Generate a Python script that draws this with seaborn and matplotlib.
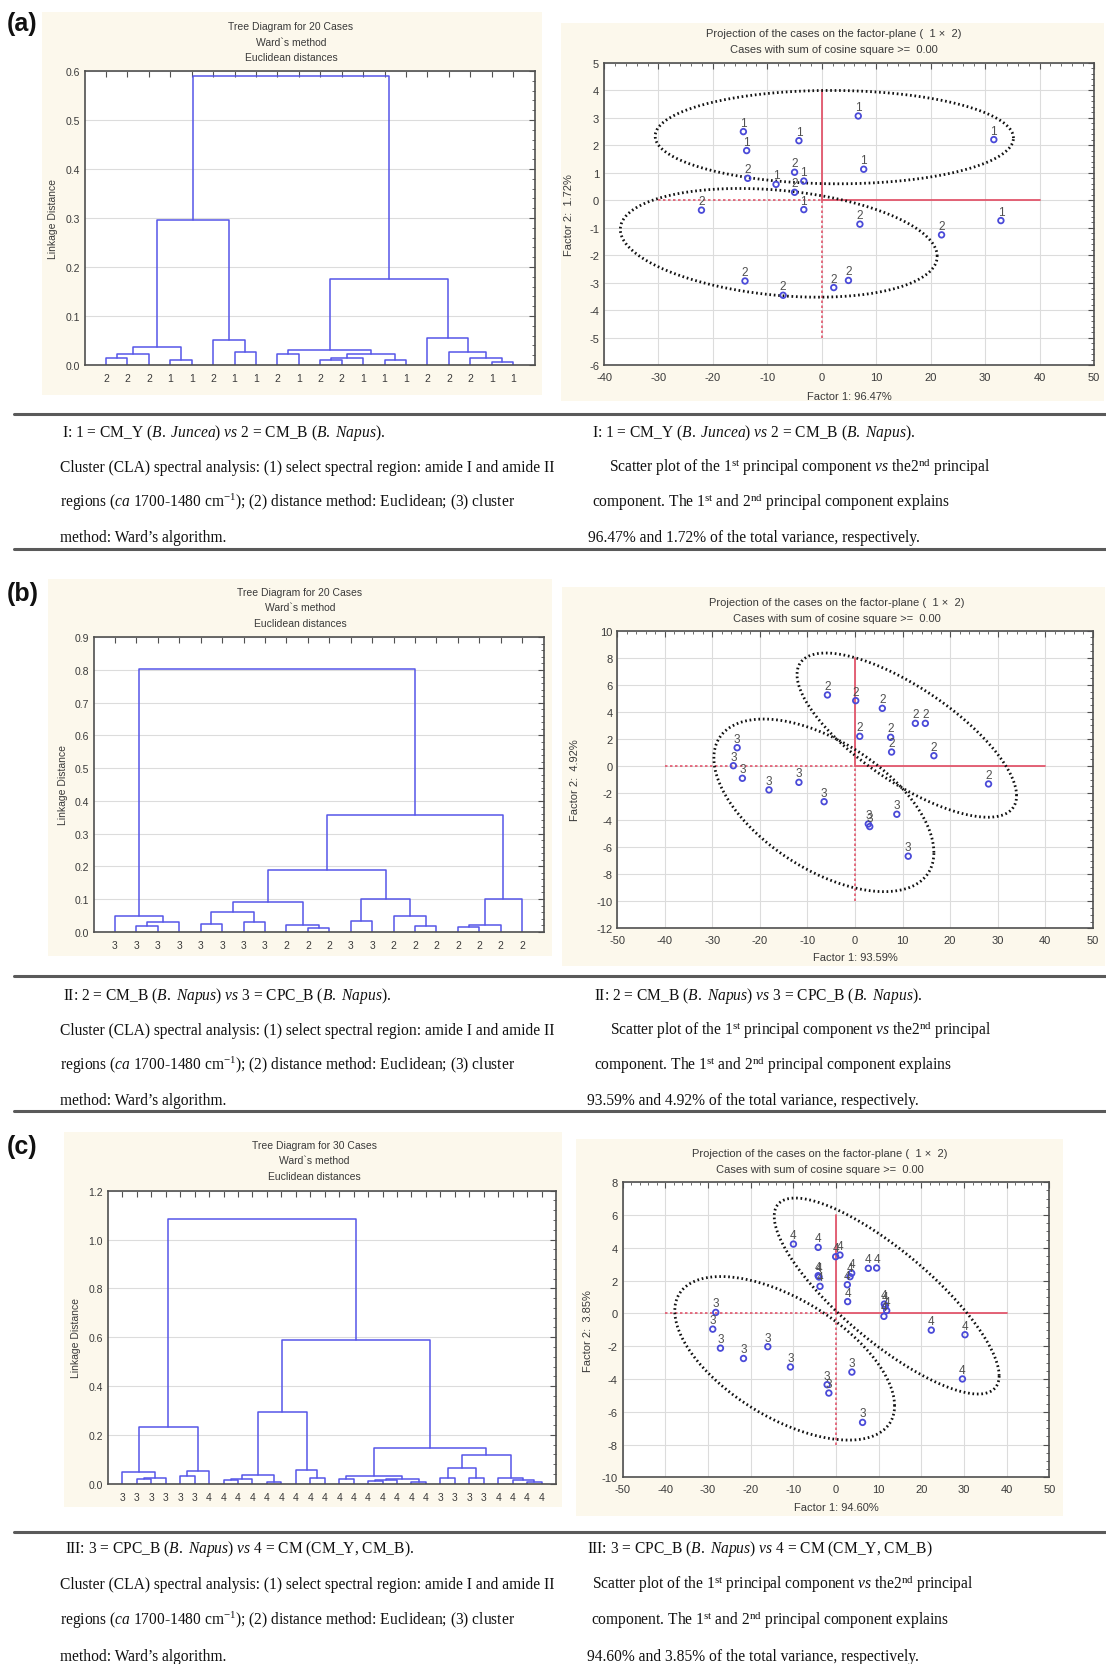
import numpy as np
import matplotlib
matplotlib.use("Agg")
import matplotlib.pyplot as plt
import seaborn as sns
from matplotlib.lines import Line2D
from matplotlib.patches import Rectangle
from matplotlib.ticker import MultipleLocator, AutoMinorLocator, FormatStrFormatter

# ---------------- data ----------------
# dendrograms: leaves in display order, merges = (child, child, linkage distance)
# leaves are 0..n-1, each merge creates node n, n+1, ...
dend_a_labels = [2, 2, 2, 1, 1, 2, 1, 1, 2, 1, 2, 2, 1, 1, 1, 2, 2, 2, 1, 1]
dend_a_merges = [
    (0, 1, 0.014), (20, 2, 0.022), (3, 4, 0.011), (21, 22, 0.036),
    (6, 7, 0.026), (5, 24, 0.052), (23, 25, 0.295), (8, 9, 0.022),
    (10, 11, 0.011), (28, 12, 0.0136), (13, 14, 0.011), (29, 30, 0.022),
    (27, 31, 0.031), (18, 19, 0.0055), (17, 33, 0.014), (16, 34, 0.027),
    (15, 35, 0.056), (32, 36, 0.1765), (26, 37, 0.589),
]

dend_b_labels = [3, 3, 3, 3, 3, 3, 3, 3, 2, 2, 2, 3, 3, 2, 2, 2, 2, 2, 2, 2]
dend_b_merges = [
    (1, 2, 0.018), (20, 3, 0.0285), (0, 21, 0.049), (4, 5, 0.0235),
    (6, 7, 0.029), (23, 24, 0.061), (9, 10, 0.010), (8, 26, 0.021),
    (25, 27, 0.0897), (11, 12, 0.0336), (14, 15, 0.0173), (13, 30, 0.049),
    (29, 31, 0.100), (28, 32, 0.190), (16, 17, 0.0143), (34, 18, 0.021),
    (35, 19, 0.100), (33, 36, 0.358), (22, 37, 0.8045),
]

dend_c_labels = [3, 3, 3, 3, 3, 3, 4, 4, 4, 4, 4, 4, 4, 4, 4,
                 4, 4, 4, 4, 4, 4, 4, 3, 3, 3, 3, 4, 4, 4, 4]
dend_c_merges = [
    (1, 2, 0.019), (30, 3, 0.0246), (0, 31, 0.049), (4, 5, 0.033),
    (33, 6, 0.0505), (32, 34, 0.231),
    (7, 8, 0.0137), (36, 9, 0.019), (10, 11, 0.008), (37, 38, 0.0355),
    (13, 14, 0.0246), (12, 40, 0.0546), (39, 41, 0.292),
    (15, 16, 0.018), (17, 18, 0.011), (44, 19, 0.015), (20, 21, 0.008),
    (45, 46, 0.020), (43, 47, 0.033), (22, 23, 0.023), (24, 25, 0.023),
    (49, 50, 0.064), (28, 29, 0.007), (27, 52, 0.014), (26, 53, 0.025),
    (51, 54, 0.116), (48, 55, 0.146), (42, 56, 0.590), (35, 57, 1.085),
]

# PCA scores (factor 1, factor 2) and group labels
pca_a_x = [6.7, -14.4, -4.2, -13.8, 31.6, 7.7, -8.4, -3.3, -3.3, 32.9,
           -13.6, -5.0, -5.0, -22.1, 7.0, 22.0, -14.1, -7.1, 2.2, 4.9]
pca_a_y = [3.07, 2.50, 2.17, 1.81, 2.21, 1.13, 0.58, 0.70, -0.34, -0.74,
           0.80, 1.02, 0.29, -0.36, -0.87, -1.26, -2.94, -3.46, -3.18, -2.92]
pca_a_grp = [1] * 10 + [2] * 10

pca_b_x = [-5.8, 0.15, 5.75, 12.7, 14.8, 1.0, 7.5, 7.7, 16.6, 28.1,
           -24.8, -25.6, -23.7, -18.1, -11.8, -6.5, 2.8, 3.1, 8.8, 11.2]
pca_b_y = [5.25, 4.83, 4.26, 3.15, 3.15, 2.19, 2.12, 1.03, 0.76, -1.33,
           1.35, 0.02, -0.91, -1.77, -1.21, -2.64, -4.29, -4.48, -3.57, -6.67]
pca_b_grp = [2] * 10 + [3] * 10

pca_c_x = [-10.0, -4.2, -0.1, 0.9, 3.65, 3.26, -4.2, -4.0, -3.77, 2.63,
           2.7, 7.55, 9.5, 11.3, 11.85, 11.2, 22.3, 30.2, 29.6, 11.5,
           -28.2, -28.9, -27.1, -21.7, -16.0, -10.7, 3.7, -2.1, -1.7, 6.2]
pca_c_y = [4.23, 4.03, 3.46, 3.56, 2.45, 2.24, 2.30, 2.22, 1.65, 1.75,
           0.72, 2.75, 2.77, 0.57, 0.17, -0.18, -1.02, -1.30, -4.00, 0.42,
           0.06, -0.96, -2.12, -2.75, -2.03, -3.27, -3.58, -4.35, -4.86, -6.65]
pca_c_grp = [4] * 20 + [3] * 10

# group ellipses: centre x, centre y, half width, half height, tilt phase
ell_a = [(2.3, 2.3, 32.9, 1.70, -0.02), (-7.9, -1.55, 29.1, 1.98, -0.25)]
ell_b = [(10.9, 2.28, 23.1, 6.07, -0.83), (-6.55, -2.91, 23.15, 6.38, -0.58)]
ell_c = [(11.85, 1.06, 26.35, 5.98, -0.95), (-12.05, -2.74, 25.75, 4.99, -0.62)]

# extent of the red origin cross: (xmin, xmax, ymin, ymax)
cross_a = (-30, 40, -5, 4)
cross_b = (-40, 40, -10, 8)
cross_c = (-40, 40, -8, 6)

var_a = ("96.47%", "1.72%")
var_b = ("93.59%", "4.92%")
var_c = ("94.60%", "3.85%")

# ---------------- style ----------------
sns.set_theme(style="white")
plt.rcParams["font.family"] = ["Liberation Sans", "DejaVu Sans"]
plt.rcParams["axes.unicode_minus"] = False
plt.rcParams["mathtext.fontset"] = "custom"
plt.rcParams["mathtext.rm"] = "Liberation Serif"
plt.rcParams["mathtext.it"] = "Liberation Serif:italic"
plt.rcParams["mathtext.bf"] = "Liberation Serif:bold"

W, H = 1106, 1665
BEIGE = "#fcf8ec"
DBLUE = "#5656e8"
PBLUE = "#4a4ad8"
RED = "#e2566c"
TXT = "#3a3a3a"
CAP_SIZE = 11.2

fig = plt.figure(figsize=(W / 100, H / 100), dpi=100)
fig.patch.set_facecolor("white")


def rect(l, t, r, b):
    return [l / W, 1 - b / H, (r - l) / W, (b - t) / H]


def ftext(x, y, s, **kw):
    fig.text(x / W, 1 - y / H, s, **kw)


def beige(l, t, r, b):
    fig.add_artist(Rectangle((l / W, 1 - b / H), (r - l) / W, (b - t) / H,
                             transform=fig.transFigure, facecolor=BEIGE,
                             edgecolor="none", zorder=-5))


def hline(y, x0=14, x1=1106):
    fig.add_artist(Line2D([x0 / W, x1 / W], [1 - y / H, 1 - y / H],
                          transform=fig.transFigure, color="#5a5a5a", lw=2.2))


def frame(ax, size):
    for s in ax.spines.values():
        s.set_color("#505050")
        s.set_linewidth(1.2)
    ax.tick_params(which="both", direction="in", top=True, right=True,
                   colors="#505050", labelcolor=TXT, labelsize=size)
    ax.tick_params(which="major", length=4, width=0.8)
    ax.tick_params(which="minor", length=2, width=0.6)


def dendrogram(box, axr, titles, title_x, title_y, ylab_x, labels, merges, ymax, ystep):
    beige(*box)
    ax = fig.add_axes(rect(*axr))
    ax.set_facecolor("white")
    n = len(labels)
    pos = {i: (i + 1, 0.0) for i in range(n)}
    for k, (a, b, h) in enumerate(merges):
        xa, ya = pos[a]
        xb, yb = pos[b]
        ax.plot([xa, xa, xb, xb], [ya, h, h, yb], color=DBLUE, lw=1.1)
        pos[n + k] = ((xa + xb) / 2, h)
    ax.set_xlim(0, n + 1)
    ax.set_ylim(0, ymax)
    ax.set_xticks(range(1, n + 1))
    ax.set_xticklabels([str(v) for v in labels])
    ax.yaxis.set_major_locator(MultipleLocator(ystep))
    ax.yaxis.set_minor_locator(AutoMinorLocator(5))
    ax.yaxis.set_major_formatter(FormatStrFormatter("%.1f"))
    ax.grid(True, axis="y", color="#dcdcdc", lw=0.8)
    ax.set_axisbelow(True)
    frame(ax, 7.5)
    ax.tick_params(axis="x", pad=6)
    for i, t in enumerate(titles):
        ftext(title_x, title_y + 15.5 * i, t, ha="center", va="center",
              fontsize=7.5, color=TXT)
    ftext(ylab_x, (axr[1] + axr[3]) / 2, "Linkage Distance", rotation=90,
          ha="center", va="center", fontsize=7.5, color=TXT)
    return ax


def ellipse_xy(cx, cy, rx, ry, d):
    t = np.linspace(0, 2 * np.pi, 400)
    return cx + rx * np.cos(t), cy + ry * np.sin(t + d)


def scatter(box, axr, title_x, title_y, ylab_x, xlab_y, xs, ys, grp, ells,
            cross, var, xlim, ylim, ystep):
    beige(*box)
    ax = fig.add_axes(rect(*axr))
    ax.set_facecolor("white")
    x0, x1, y0, y1 = cross
    ax.plot([x0, 0], [0, 0], color=RED, lw=1.2, ls=(0, (1.5, 1.5)))
    ax.plot([0, x1], [0, 0], color=RED, lw=1.3)
    ax.plot([0, 0], [y0, 0], color=RED, lw=1.2, ls=(0, (1.5, 1.5)))
    ax.plot([0, 0], [0, y1], color=RED, lw=1.3)
    for e in ells:
        ex, ey = ellipse_xy(*e)
        ax.plot(ex, ey, color="#111111", lw=2.0, ls=(0, (0.6, 1.0)))
    sns.scatterplot(x=xs, y=ys, ax=ax, marker="o", s=16, facecolor="none",
                    edgecolor=PBLUE, linewidth=1.3, zorder=5)
    for x, y, g in zip(xs, ys, grp):
        ax.annotate(str(g), (x, y), xytext=(0, 2.2), textcoords="offset points",
                    ha="center", va="bottom", fontsize=8.5, color="#505050", zorder=6)
    ax.set_xlim(*xlim)
    ax.set_ylim(*ylim)
    ax.xaxis.set_major_locator(MultipleLocator(10))
    ax.xaxis.set_minor_locator(AutoMinorLocator(5))
    ax.yaxis.set_major_locator(MultipleLocator(ystep))
    ax.yaxis.set_minor_locator(AutoMinorLocator(5 if ystep == 1 else 4))
    ax.grid(True, color="#dcdcdc", lw=0.8)
    ax.set_axisbelow(True)
    frame(ax, 8)
    ax.tick_params(axis="x", pad=5)
    ftext(title_x, title_y, "Projection of the cases on the factor-plane (  1 \u00d7  2)",
          ha="center", va="center", fontsize=8, color=TXT)
    ftext(title_x, title_y + 16, "Cases with sum of cosine square >=  0.00",
          ha="center", va="center", fontsize=8, color=TXT)
    ftext((axr[0] + axr[2]) / 2, xlab_y, "Factor 1: " + var[0], ha="center",
          va="center", fontsize=8, color=TXT)
    ftext(ylab_x, (axr[1] + axr[3]) / 2, "Factor 2:  " + var[1], rotation=90,
          ha="center", va="center", fontsize=8, color=TXT)
    return ax


def caption(lines_left, lines_right, ys, xl, xr):
    for (dx, s), y in zip(lines_left, ys):
        ftext(xl + dx, y + 5, s, ha="left", va="baseline", fontsize=CAP_SIZE,
              family="Liberation Serif", color="#111111")
    for (dx, s), y in zip(lines_right, ys):
        ftext(xr + dx, y + 5, s, ha="left", va="baseline", fontsize=CAP_SIZE,
              family="Liberation Serif", color="#111111")


tree_titles = ["Ward`s method", "Euclidean distances"]

# ---------------- row (a) ----------------
ftext(7, 24, "(a)", fontsize=18, fontweight="bold", ha="left", va="center", color="#111111")
dendrogram((42, 13, 542, 396), (84.6, 72, 534.6, 366),
           ["Tree Diagram for 20 Cases"] + tree_titles, 291, 27, 53,
           dend_a_labels, dend_a_merges, 0.6, 0.1)
scatter((561, 24, 1104, 402), (604, 64, 1094, 366), 834, 34, 569, 397,
        pca_a_x, pca_a_y, pca_a_grp, ell_a, cross_a, var_a, (-40, 50), (-6, 5), 1)

# ---------------- row (b) ----------------
ftext(7, 594, "(b)", fontsize=18, fontweight="bold", ha="left", va="center", color="#111111")
dendrogram((48, 580, 552, 957), (93.6, 638.3, 543.6, 932.7),
           ["Tree Diagram for 20 Cases"] + tree_titles, 300, 593, 62.5,
           dend_b_labels, dend_b_merges, 0.9, 0.1)
scatter((562, 588, 1105, 967), (617.4, 631.7, 1092.6, 929.3), 836.5, 603, 575, 958,
        pca_b_x, pca_b_y, pca_b_grp, ell_b, cross_b, var_b, (-50, 50), (-12, 10), 2)

# ---------------- row (c) ----------------
ftext(7, 1147, "(c)", fontsize=18, fontweight="bold", ha="left", va="center", color="#111111")
dendrogram((64, 1133, 562, 1508), (107.9, 1191.7, 556, 1484.7),
           ["Tree Diagram for 30 Cases"] + tree_titles, 314, 1146, 75.7,
           dend_c_labels, dend_c_merges, 1.2, 0.2)
scatter((576, 1140, 1063, 1517), (622.7, 1183.3, 1049.5, 1478.3), 819.6, 1154, 588, 1508,
        pca_c_x, pca_c_y, pca_c_grp, ell_c, cross_c, var_c, (-50, 50), (-10, 8), 2)

# ---------------- captions ----------------
cla = [
    (0, "Cluster (CLA) spectral analysis: (1) select spectral region: amide I and amide II"),
    (0, r"regions ($\mathit{ca}$ 1700-1480 cm$^{\mathrm{-1}}$); (2) distance method: Euclidean; (3) cluster"),
    (0, "method: Ward\u2019s algorithm."),
]
pcs = r"Scatter plot of the 1$^{\mathrm{st}}$ principal component $\mathit{vs}$ the2$^{\mathrm{nd}}$ principal"
pcc = r"component. The 1$^{\mathrm{st}}$ and 2$^{\mathrm{nd}}$ principal component explains"

head_a = r"I: 1 = CM_Y ($\mathit{B.\ Juncea}$) $\mathit{vs}$ 2 = CM_B ($\mathit{B.\ Napus}$)."
head_b = r"II: 2 = CM_B ($\mathit{B.\ Napus}$) $\mathit{vs}$ 3 = CPC_B ($\mathit{B.\ Napus}$)."
head_c = r"III: 3 = CPC_B ($\mathit{B.\ Napus}$) $\mathit{vs}$ 4 = CM (CM_Y, CM_B)"

hline(415)
caption([(2, head_a)] + cla,
        [(0, head_a), (17, pcs), (0, pcc),
         (-4, var_a[0] + " and " + var_a[1] + " of the total variance, respectively.")],
        [432, 467, 502, 537], 60, 592)
hline(550)

hline(977)
caption([(3, head_b)] + cla,
        [(2, head_b), (18, pcs), (2, pcc),
         (-5, var_b[0] + " and " + var_b[1] + " of the total variance, respectively.")],
        [995, 1030, 1065, 1100], 60, 592)
hline(1112)

hline(1533)
caption([(5, head_c + ".")] + cla,
        [(-5, head_c), (0, pcs), (-1, pcc),
         (-5, var_c[0] + " and " + var_c[1] + " of the total variance, respectively.")],
        [1548, 1584, 1620, 1656], 60, 592)

fig.savefig("out.png", dpi=100)
